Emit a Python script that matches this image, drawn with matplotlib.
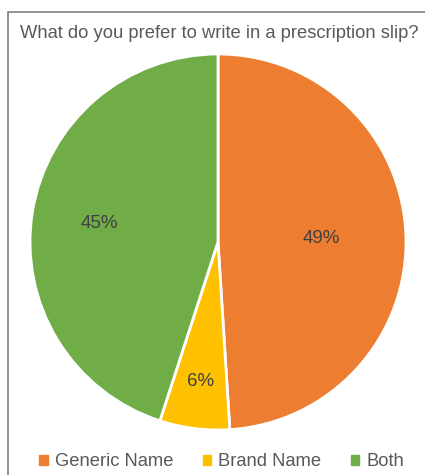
import numpy as np
import matplotlib.pyplot as plt
from matplotlib.patches import Rectangle

labels = ['Generic Name', 'Brand Name', 'Both']
values = [49, 6, 45]
colors = ['#ED7D31', '#FFC000', '#70AD47']
label_dist = [0.55, 0.75, 0.64]

plt.rcParams['font.family'] = ['Liberation Sans', 'DejaVu Sans']

fig = plt.figure(figsize=(4.25, 4.75), dpi=100)
fig.patches.append(Rectangle((8 / 425, -0.1), 1.2, 1 - 12 / 475 + 0.1,
                             transform=fig.transFigure, fill=False,
                             edgecolor='#808080', linewidth=1.2))

ax = fig.add_axes([(218 - 188) / 425, (475 - 242 - 188) / 475, 376 / 425, 376 / 475])
wedges, _ = ax.pie(values, colors=colors, startangle=90, counterclock=False,
                   wedgeprops=dict(edgecolor='white', linewidth=2))
ax.set_xlim(-1, 1)
ax.set_ylim(-1, 1)
ax.set_aspect('equal')

for w, v, d in zip(wedges, values, label_dist):
    mid = np.deg2rad((w.theta1 + w.theta2) / 2)
    ax.text(d * np.cos(mid), d * np.sin(mid), f'{v}%', ha='center', va='center',
            fontsize=13.5, color='#404040')

fig.text(20 / 425, 1 - 33 / 475, 'What do you prefer to write in a prescription slip?',
         ha='left', va='center', fontsize=13.2, color='#595959')

handles = [Rectangle((0, 0), 1, 1, color=c) for c in colors]
fig.legend(handles, labels, loc='center', bbox_to_anchor=(0.522, 1 - 462 / 475),
           ncol=3, frameon=False, fontsize=13.2, handlelength=0.45, handleheight=0.45,
           handletextpad=0.4, columnspacing=1.6, labelcolor='#595959')

fig.savefig('out.png', dpi=100)
